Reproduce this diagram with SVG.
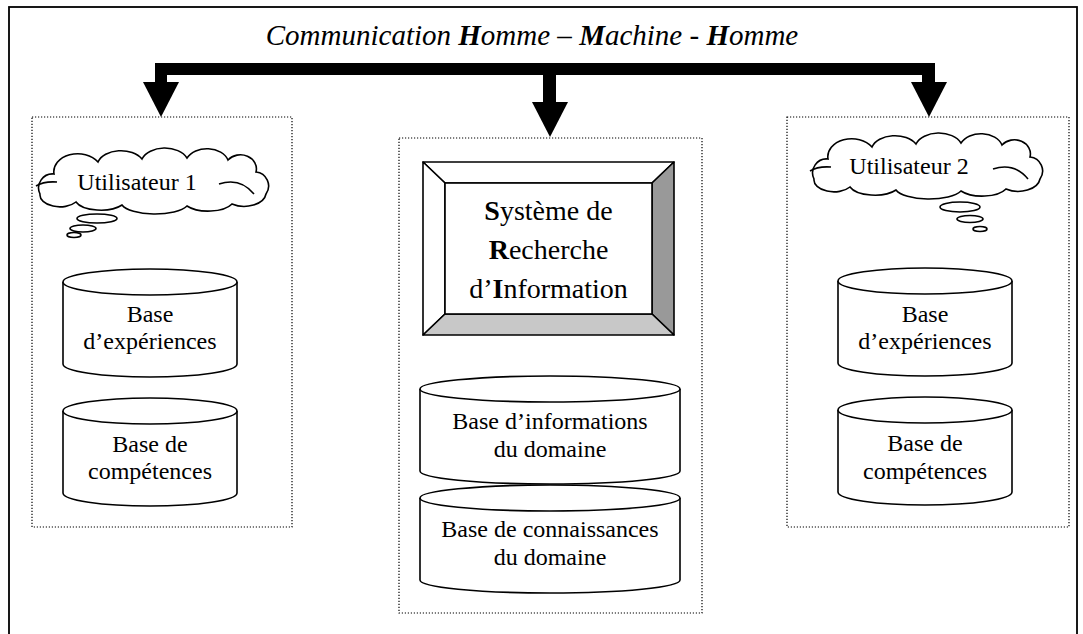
<svg xmlns="http://www.w3.org/2000/svg" width="1083" height="634" viewBox="0 0 1083 634">
<style>
text{font-family:"Liberation Serif","Times New Roman",serif;fill:#000}
.t24{font-size:24px;text-anchor:middle}
.t28{font-size:28px;text-anchor:middle}
.title{font-size:29px;font-style:italic;text-anchor:middle}
.b{font-weight:bold}
.dot{fill:none;stroke:#000;stroke-width:1.2;stroke-dasharray:1.2 1.8}
.ln{fill:#fff;stroke:#000;stroke-width:1.6}
.cl{fill:#fff;stroke:#000;stroke-width:1.6}
.in{fill:none;stroke:#000;stroke-width:1.6}
</style>
<defs>
<path id="cloud" d="M22,24 A24 18 0 0 1 66,12 A24 16 0 0 1 110,9 A24 16 0 0 1 155,8 A22 16 0 0 1 196,10 A16 14 0 0 1 224,22 A14 14 0 0 1 234,44 A22 14 0 0 1 200,54 A26 12 0 0 1 155,56 A34 12 0 0 1 90,55 A26 12 0 0 1 44,52 A20 12 0 0 1 8,44 A14 14 0 0 1 22,24 Z"/>
</defs>
<rect x="0" y="0" width="1083" height="634" fill="#fff"/>
<rect x="9" y="7" width="1068" height="640" fill="none" stroke="#000" stroke-width="1.8"/>
<text class="title" x="532" y="45">Communication <tspan class="b">H</tspan>omme – <tspan class="b">M</tspan>achine - <tspan class="b">H</tspan>omme</text>
<g id="connectors" fill="#000">
<path d="M155,63 H935 V82 H922 V75 H556 V102 H543 V75 H167 V82 H155 Z"/>
<polygon points="143,82 179,82 161,117"/>
<polygon points="532,102 568,102 550,137"/>
<polygon points="911,82 947,82 929,117"/>
</g>
<g id="user1">
<rect class="dot" x="32" y="117" width="260" height="410"/>
<g transform="translate(32,150)">
<use href="#cloud" class="cl"/>
<path class="in" d="M4,36 Q12,31 25,32"/>
<path class="in" d="M187,34 Q208,27 222,44"/>
</g>
<ellipse class="cl" cx="97" cy="218.5" rx="20" ry="4.5"/>
<ellipse class="cl" cx="83" cy="228.5" rx="13" ry="3.5"/>
<ellipse class="cl" cx="74" cy="235" rx="7" ry="2.5"/>
<text class="t24" x="137" y="190">Utilisateur 1</text>
</g>
<g id="user1-exp">
<path class="ln" d="M63,282 V364 A87 13 0 0 0 237,364 V282"/>
<ellipse class="ln" cx="150" cy="282" rx="87" ry="13"/>
<text class="t24" x="150" y="322">Base</text>
<text class="t24" x="150" y="349">d’expériences</text>
</g>
<g id="user1-comp">
<path class="ln" d="M63,411 V493 A87 13 0 0 0 237,493 V411"/>
<ellipse class="ln" cx="150" cy="411" rx="87" ry="13"/>
<text class="t24" x="150" y="452">Base de</text>
<text class="t24" x="150" y="479">compétences</text>
</g>
<g id="sri-zone">
<rect class="dot" x="399" y="138" width="303" height="475"/>
</g>
<g id="sri">
<polygon points="423,162 674,162 652,183 445,183" fill="#fff" stroke="#000" stroke-width="1.6" stroke-linejoin="round"/>
<polygon points="423,162 445,183 445,314 423,335" fill="#fff" stroke="#000" stroke-width="1.6" stroke-linejoin="round"/>
<polygon points="674,162 674,335 652,314 652,183" fill="#999" stroke="#000" stroke-width="1.6" stroke-linejoin="round"/>
<polygon points="423,335 674,335 652,314 445,314" fill="#c8c8c8" stroke="#000" stroke-width="1.6" stroke-linejoin="round"/>
<rect x="445" y="183" width="207" height="131" fill="#fff" stroke="#000" stroke-width="1.6"/>
<text class="t28" x="548.5" y="220"><tspan class="b">S</tspan>ystème de</text>
<text class="t28" x="548.5" y="259"><tspan class="b">R</tspan>echerche</text>
<text class="t28" x="548.5" y="298">d’<tspan class="b">I</tspan>nformation</text>
</g>
<g id="base-info">
<path class="ln" d="M420,389 V471 A130 13 0 0 0 680,471 V389"/>
<ellipse class="ln" cx="550" cy="389" rx="130" ry="13"/>
<text class="t24" x="550" y="429">Base d’informations</text>
<text class="t24" x="550" y="457">du domaine</text>
</g>
<g id="base-conn">
<path class="ln" d="M420,498 V580 A130 13 0 0 0 680,580 V498"/>
<ellipse class="ln" cx="550" cy="498" rx="130" ry="13"/>
<text class="t24" x="550" y="537">Base de connaissances</text>
<text class="t24" x="550" y="565">du domaine</text>
</g>
<g id="user2">
<rect class="dot" x="787" y="117" width="282" height="410"/>
<g transform="translate(806,135)">
<use href="#cloud" class="cl"/>
<path class="in" d="M4,36 Q12,31 25,32"/>
<path class="in" d="M187,34 Q208,27 222,44"/>
</g>
<ellipse class="cl" cx="960" cy="207" rx="20" ry="5"/>
<ellipse class="cl" cx="970" cy="219" rx="13" ry="3.5"/>
<ellipse class="cl" cx="980" cy="229" rx="7" ry="2.5"/>
<text class="t24" x="909" y="174">Utilisateur 2</text>
</g>
<g id="user2-exp">
<path class="ln" d="M838,281 V363 A87 13 0 0 0 1012,363 V281"/>
<ellipse class="ln" cx="925" cy="281" rx="87" ry="13"/>
<text class="t24" x="925" y="322">Base</text>
<text class="t24" x="925" y="349">d’expériences</text>
</g>
<g id="user2-comp">
<path class="ln" d="M838,410 V492 A87 13 0 0 0 1012,492 V410"/>
<ellipse class="ln" cx="925" cy="410" rx="87" ry="13"/>
<text class="t24" x="925" y="451">Base de</text>
<text class="t24" x="925" y="479">compétences</text>
</g>
</svg>
